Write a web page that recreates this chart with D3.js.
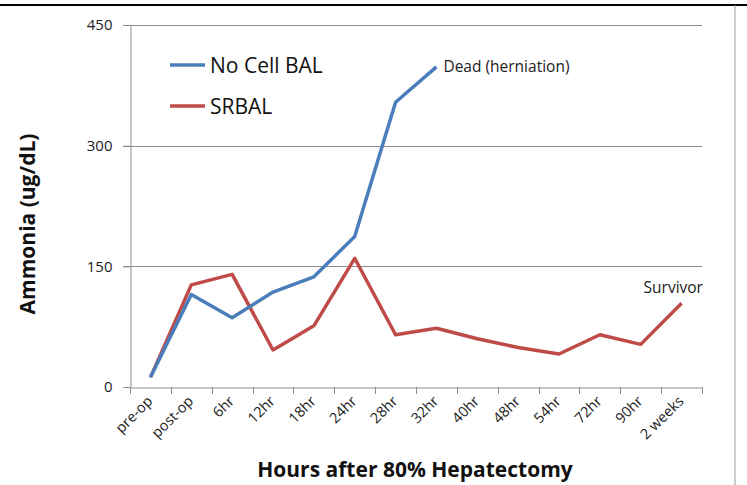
<!DOCTYPE html>
<html>
<head>
<meta charset="utf-8">
<script src="https://cdn.jsdelivr.net/npm/d3@7"></script>
<style>
  body { margin: 0; background: #fff; }
  svg { font-family: "Open Sans", "Liberation Sans", sans-serif; }
</style>
</head>
<body>
<svg id="chart" width="747" height="485"></svg>
<script>
"use strict";

const categories = ["pre-op", "post-op", "6hr", "12hr", "18hr", "24hr", "28hr", "32hr",
  "40hr", "48hr", "54hr", "72hr", "90hr", "2 weeks"];
const noCellBal = [12, 115, 86, 118, 137, 187, 354, 398];
const srbal = [12, 127, 140, 46, 76, 160, 65, 73, 60, 49, 41, 65, 53, 104];
const yTicks = [0, 150, 300, 450];

const svg = d3.select("#chart");
const plotLeft = 130, plotRight = 702, plotTop = 25, plotBottom = 387;

const x = d3.scaleBand().domain(categories).range([plotLeft, plotRight]);
const y = d3.scaleLinear().domain([0, 450]).range([plotBottom, plotTop]);

// frame remnants
svg.append("line").attr("x1", 0).attr("x2", 747).attr("y1", 5).attr("y2", 5)
  .attr("stroke", "#000").attr("stroke-width", 2);
svg.append("line").attr("x1", 735).attr("x2", 735).attr("y1", 5).attr("y2", 485)
  .attr("stroke", "#999").attr("stroke-width", 1);

// gridlines
svg.append("g")
  .selectAll("line")
  .data(yTicks.filter((d) => d > 0))
  .enter()
  .append("line")
  .attr("x1", plotLeft - 7)
  .attr("x2", plotRight)
  .attr("y1", (d) => Math.round(y(d)) + 0.5)
  .attr("y2", (d) => Math.round(y(d)) + 0.5)
  .attr("stroke", "#8c8c8c");

// y axis
const yAxis = svg.append("g")
  .attr("transform", `translate(${plotLeft + 0.5},0)`)
  .call(d3.axisLeft(y).tickValues(yTicks).tickSize(7).tickPadding(11));
yAxis.select(".domain").attr("stroke", "#8c8c8c");
yAxis.selectAll(".tick line").attr("stroke", "#8c8c8c");
yAxis.selectAll(".tick text").attr("font-size", 15).attr("fill", "#222")
  .attr("font-family", "Open Sans, sans-serif");

// x axis
const xAxis = svg.append("g")
  .attr("transform", `translate(0,${plotBottom + 0.5})`)
  .call(d3.axisBottom(x).tickSize(0).tickFormat(""));
xAxis.select(".domain").attr("stroke", "#8c8c8c");
svg.append("g")
  .selectAll("line")
  .data(categories.concat([null]))
  .enter()
  .append("line")
  .attr("x1", (d, i) => Math.round(plotLeft + i * x.bandwidth()) + 0.5)
  .attr("x2", (d, i) => Math.round(plotLeft + i * x.bandwidth()) + 0.5)
  .attr("y1", plotBottom)
  .attr("y2", plotBottom + 7)
  .attr("stroke", "#8c8c8c");

svg.append("g")
  .selectAll("text")
  .data(categories)
  .enter()
  .append("text")
  .attr("transform", (d) => `translate(${x(d) + x.bandwidth() / 2 + 3},${plotBottom + 15}) rotate(-45)`)
  .attr("text-anchor", "end")
  .attr("font-size", 14.5)
  .attr("fill", "#222")
  .text((d) => d);

// axis titles
svg.append("text")
  .attr("x", 415)
  .attr("y", 477)
  .attr("text-anchor", "middle")
  .attr("font-size", 21)
  .attr("font-weight", "bold")
  .attr("fill", "#111")
  .text("Hours after 80% Hepatectomy");

svg.append("text")
  .attr("transform", "translate(35,224) rotate(-90)")
  .attr("text-anchor", "middle")
  .attr("font-size", 21)
  .attr("font-weight", "bold")
  .attr("fill", "#111")
  .text("Ammonia (ug/dL)");

// lines
const line = d3.line()
  .x((d, i) => x(categories[i]) + x.bandwidth() / 2)
  .y((d) => y(d));

svg.append("path").datum(srbal).attr("d", line)
  .attr("fill", "none").attr("stroke", "#be4b48").attr("stroke-width", 3.5)
  .attr("stroke-linejoin", "round");
svg.append("path").datum(noCellBal).attr("d", line)
  .attr("fill", "none").attr("stroke", "#4a7ebb").attr("stroke-width", 3.5)
  .attr("stroke-linejoin", "round");

// annotations
svg.append("text")
  .attr("x", x("32hr") + x.bandwidth() / 2 + 7)
  .attr("y", y(398) + 5)
  .attr("font-size", 15.5)
  .attr("fill", "#222")
  .text("Dead (herniation)");
svg.append("text")
  .attr("x", x("2 weeks") + x.bandwidth() / 2 - 38)
  .attr("y", y(104) - 10)
  .attr("font-size", 15.5)
  .attr("fill", "#222")
  .text("Survivor");

// legend
const legend = [
  { name: "No Cell BAL", color: "#4a7ebb" },
  { name: "SRBAL", color: "#be4b48" },
];
const lg = svg.append("g").attr("transform", "translate(170,65)");
lg.selectAll("line")
  .data(legend)
  .enter()
  .append("line")
  .attr("x1", 0).attr("x2", 35)
  .attr("y1", (d, i) => i * 41).attr("y2", (d, i) => i * 41)
  .attr("stroke", (d) => d.color).attr("stroke-width", 3.5);
lg.selectAll("text")
  .data(legend)
  .enter()
  .append("text")
  .attr("x", 40)
  .attr("y", (d, i) => i * 41 + 8)
  .attr("font-size", 21)
  .attr("fill", "#111")
  .text((d) => d.name);
</script>
</body>
</html>
